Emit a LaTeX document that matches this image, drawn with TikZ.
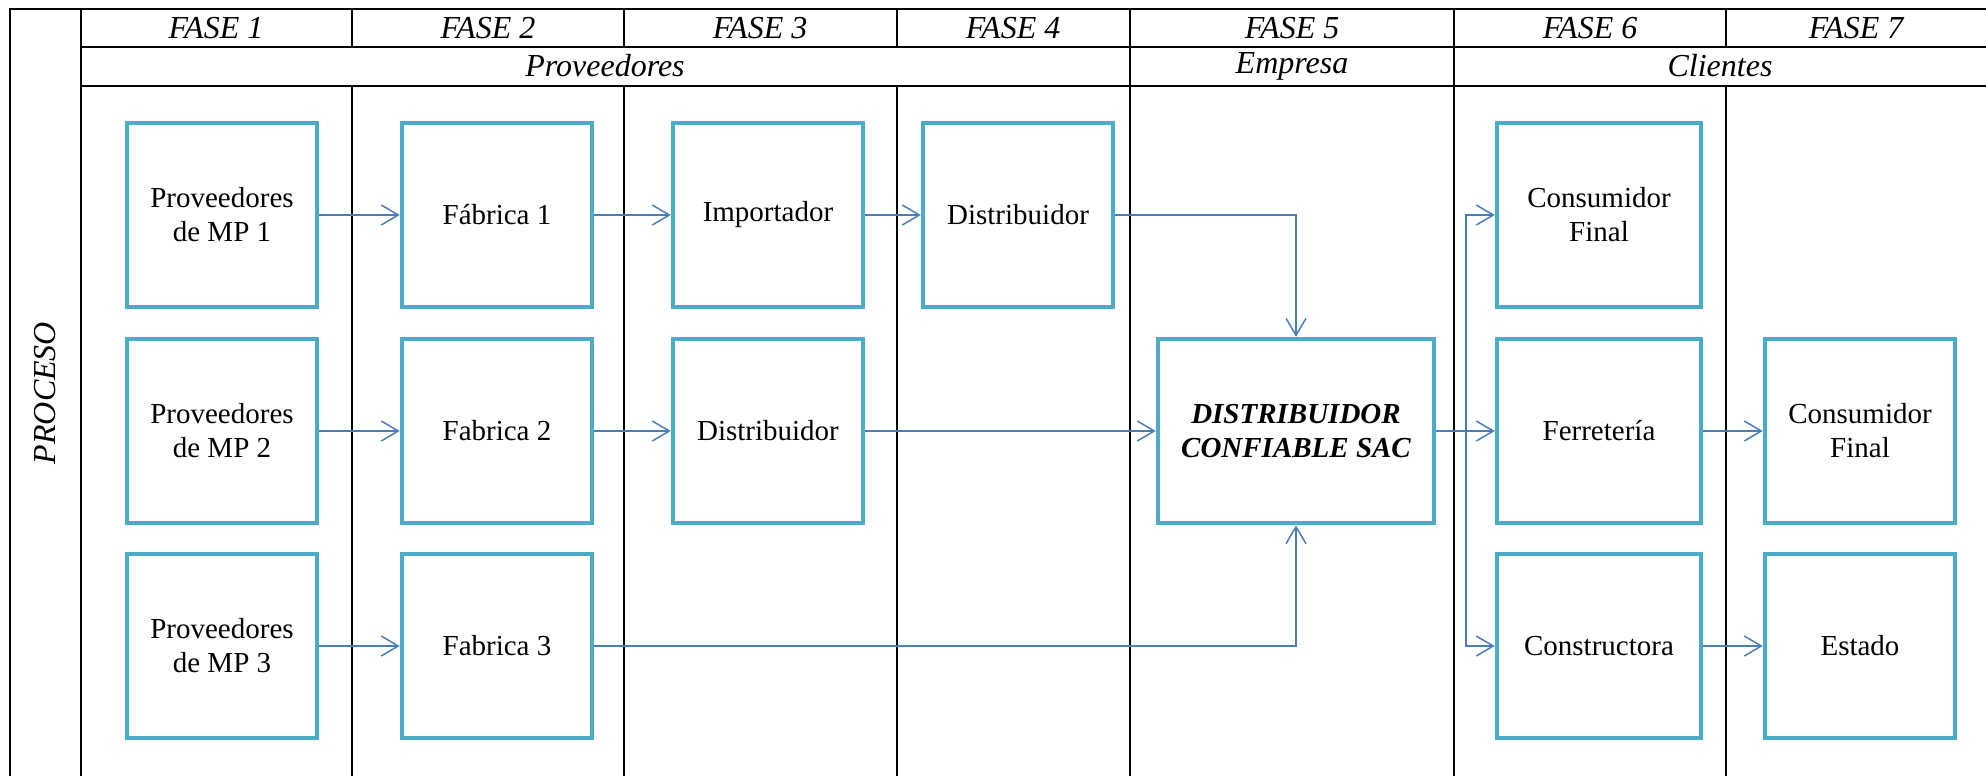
\documentclass[tikz,border=0pt]{standalone}
\usepackage{fontspec}
\setmainfont{Liberation Serif}
\usepackage{tikz}
\usetikzlibrary{arrows.meta}
\usepackage{xcolor}
\definecolor{cajaazul}{HTML}{4BACC6}
\definecolor{flechaazul}{HTML}{4A7EBB}

\begin{document}
\begin{tikzpicture}[
    x=0.5pt, y=-0.5pt,
    linea/.style={draw=black, line width=1pt},
    texto/.style={font=\fontsize{14.5}{17}\selectfont, align=center, inner sep=0pt},
    encabezado/.style={texto, font=\fontsize{16}{18}\selectfont\itshape},
    caja/.style={texto, draw=cajaazul, line width=2.25pt, minimum width=95pt, minimum height=92pt},
    flecha/.style={-{Straight Barb[length=8.5pt, width=10pt]}, draw=flechaazul, line width=0.75pt}
]
	\useasboundingbox (0,0) rectangle (1986,776);

	% marco y columnas
	\draw [linea] (10,776) -- (10,9) -- (1986,9);
	\draw [linea] (81,9) -- (81,776);
	\draw [linea] (81,47) -- (1986,47);
	\draw [linea] (81,86) -- (1986,86);
	\foreach \x in {352,624,897,1726} {
        \draw[linea] (\x,9) -- (\x,47);
        \draw[linea] (\x,86) -- (\x,776);
    }
	\foreach \x in {1130,1454}
        \draw[linea] (\x,9) -- (\x,776);

	% encabezados
	\foreach \x/\n in {216/1,488/2,760/3,1013/4,1292/5,1590/6,1856/7}
        \node[encabezado] (fase\n) at (\x,28) {FASE \n};
	\node[encabezado] (proveedores) at (605,66) {Proveedores};
	\node[encabezado] (empresa) at (1292,66) {Empresa};
	\node[encabezado] (clientes) at (1720,66) {Clientes};
	\node[encabezado, rotate=90] (proceso) at (45,393) {PROCESO};

	% cajas
	\node[caja] (prov1) at (222,215) {Proveedores\\de MP 1};
	\node[caja] (prov2) at (222,431) {Proveedores\\de MP 2};
	\node[caja] (prov3) at (222,646) {Proveedores\\de MP 3};
	\node[caja] (fab1) at (497,215) {Fábrica 1};
	\node[caja] (fab2) at (497,431) {Fabrica 2};
	\node[caja] (fab3) at (497,646) {Fabrica 3};
	\node[caja] (imp) at (768,215) {Importador};
	\node[caja] (dist2) at (768,431) {Distribuidor};
	\node[caja] (dist1) at (1018,215) {Distribuidor};
	\node[caja, minimum width=138pt, font=\fontsize{14.5}{17}\selectfont\bfseries\itshape] (dcs) at (1296,431) {DISTRIBUIDOR\\CONFIABLE SAC};
	\node[caja, minimum width=102pt] (cons1) at (1599,215) {Consumidor\\Final};
	\node[caja, minimum width=102pt] (ferr) at (1599,431) {Ferretería};
	\node[caja, minimum width=102pt] (constr) at (1599,646) {Constructora};
	\node[caja] (cons2) at (1860,431) {Consumidor\\Final};
	\node[caja] (estado) at (1860,646) {Estado};

	% flechas
	\draw [flecha] (prov1) -- (fab1);
	\draw [flecha] (prov2) -- (fab2);
	\draw [flecha] (prov3) -- (fab3);
	\draw [flecha] (fab1) -- (imp);
	\draw [flecha] (fab2) -- (dist2);
	\draw [flecha] (imp) -- (dist1);
	\draw [flecha] (dist1.east) -| (dcs.north);
	\draw [flecha] (dist2) -- (dcs);
	\draw [flecha] (fab3.east) -| (dcs.south);
	\draw [flecha] (dcs) -- (ferr);
	\coordinate (rama) at (1466,431);
	\draw [flecha] (rama) |- (cons1.west);
	\draw [flecha] (rama) |- (constr.west);
	\draw [flecha] (ferr) -- (cons2);
	\draw [flecha] (constr) -- (estado);
\end{tikzpicture}
\end{document}
